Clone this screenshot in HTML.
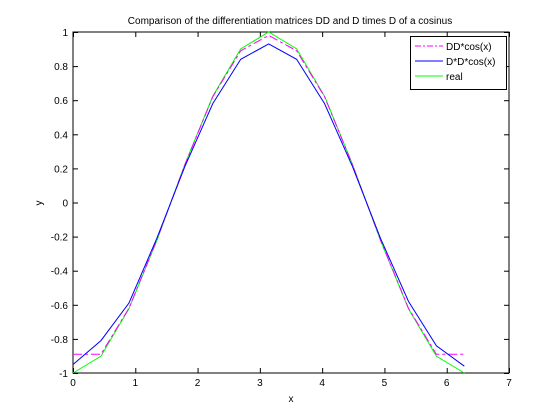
<!DOCTYPE html>
<html><head><meta charset="utf-8"><style>
body{margin:0;background:#fff;}
svg{display:block;font-family:"Liberation Sans",sans-serif;}
</style></head><body>
<svg id="c" width="560" height="420" xmlns="http://www.w3.org/2000/svg">
<rect width="560" height="420" fill="#fff"/>
<text x="290" y="24" font-size="10" text-anchor="middle">Comparison of the differentiation matrices DD and D times D of a cosinus</text>
<rect x="73" y="32" width="436" height="341" fill="#fff" stroke="#000" stroke-width="1"/>
<g id="ticks"></g>
<g id="series"></g>
<text x="291" y="402" font-size="10" text-anchor="middle">x</text>
<text x="42" y="203" font-size="10" text-anchor="middle" transform="rotate(-90 42 203)">y</text>
<g>
<rect x="410.5" y="36.5" width="96" height="53" fill="#fff" stroke="#000"/>
<line x1="415" y1="46" x2="443" y2="46" stroke="#ff00ff" stroke-dasharray="6,2,2,2"/>
<text x="446" y="50" font-size="10">DD*cos(x)</text>
<line x1="415" y1="61" x2="443" y2="61" stroke="#0000ff"/>
<text x="446" y="65" font-size="10">D*D*cos(x)</text>
<line x1="415" y1="76" x2="443" y2="76" stroke="#00ff00"/>
<text x="446" y="80" font-size="10">real</text>
</g>
</svg>
<script>
const xs=[0,0.449,0.898,1.346,1.795,2.244,2.693,3.142,3.590,4.039,4.488,4.937,5.386,5.834,6.283];
const ddVals=[-0.89,-0.89,-0.62,-0.22,0.22,0.62,0.89,0.98,0.89,0.62,0.22,-0.22,-0.62,-0.89,-0.89];
const dxdVals=[-0.95,-0.81,-0.59,-0.21,0.21,0.58,0.84,0.93,0.84,0.58,0.21,-0.21,-0.58,-0.84,-0.96];
const realVals=[-1,-0.901,-0.623,-0.223,0.223,0.623,0.901,1,0.901,0.623,0.223,-0.223,-0.623,-0.901,-1];
const xTicks=[0,1,2,3,4,5,6,7];
const yTicks=[-1,-0.8,-0.6,-0.4,-0.2,0,0.2,0.4,0.6,0.8,1];
const X=v=>73+v*(436/7), Y=v=>202.5-v*170.5;
const NS="http://www.w3.org/2000/svg";
const tg=document.getElementById('ticks'), sg=document.getElementById('series');
function mk(t,a,p){const e=document.createElementNS(NS,t);for(const k in a)e.setAttribute(k,a[k]);p.appendChild(e);return e;}
xTicks.forEach(v=>{const x=X(v)+0.5;
mk('line',{x1:x,y1:373,x2:x,y2:368,stroke:'#000'},tg);mk('line',{x1:x,y1:32,x2:x,y2:37,stroke:'#000'},tg);
const t=mk('text',{x:X(v),y:386,'font-size':10,'text-anchor':'middle'},tg);t.textContent=v;

});
yTicks.forEach(v=>{const y=Y(v)+0.5;
mk('line',{x1:73,y1:y,x2:78,y2:y,stroke:'#000'},tg);mk('line',{x1:509,y1:y,x2:504,y2:y,stroke:'#000'},tg);
const t=mk('text',{x:68,y:Y(v)+4,'font-size':10,'text-anchor':'end'},tg);t.textContent=String(+v.toFixed(1));

});
function line(vals,col,dash,name){const p=mk('polyline',{points:xs.map((x,i)=>X(x)+','+Y(vals[i])).join(' '),fill:'none',stroke:col,'stroke-width':1},sg);
if(dash)p.setAttribute('stroke-dasharray',dash);

}
line(realVals,'#00ff00',null,'series-real');
line(ddVals,'#ff00ff','9,3,3,3','series-dd-cos');
line(dxdVals,'#0000ff',null,'series-d-d-cos');
</script>
</body></html>
